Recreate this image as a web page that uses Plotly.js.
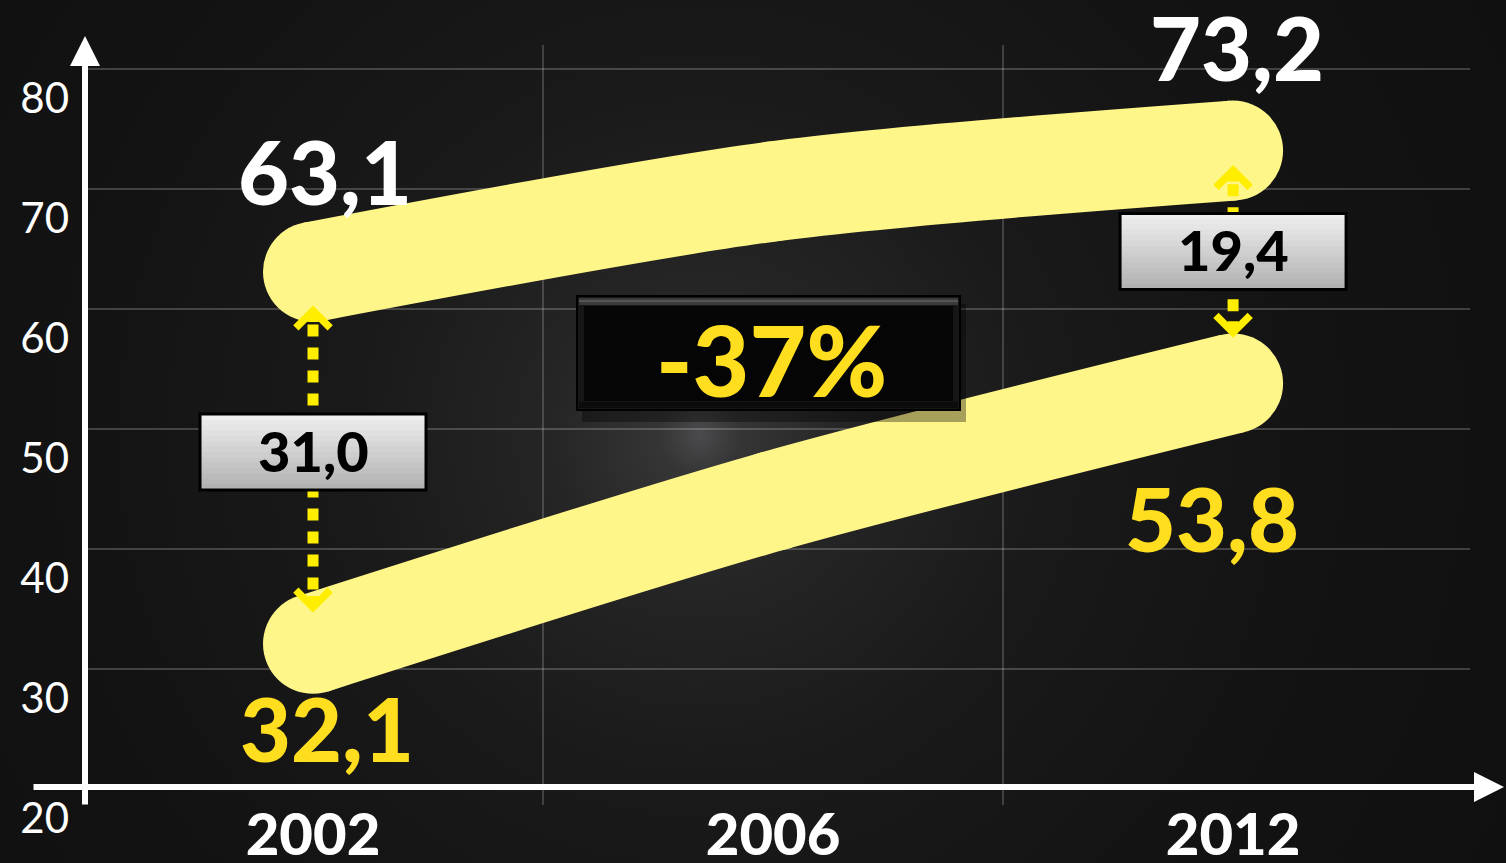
<!DOCTYPE html>
<html><head><meta charset="utf-8">
<script src="https://cdn.plot.ly/plotly-3.0.1.min.js"></script>
<style>
html,body{margin:0;padding:0;width:1506px;height:863px;overflow:hidden;
background: radial-gradient(circle at 700px 435px, #4b4a4c 0px, #363536 40px, #262526 150px, #1b1a1a 340px, #141313 620px, #0f0f0f 1000px);}
#chart{width:1506px;height:863px;}
</style></head><body><div id="chart"></div>
<script>
// ---- data ----
const categories = ['2002', '2006', '2012'];
const upperSeries = [63.1, 69.8, 73.2];
const lowerSeries = [32.1, 44.0, 53.8];
const yTickVals = [20, 30, 40, 50, 60, 70, 80];
const gapIndex = [0, 2];

// ---- layout helpers ----
const W = 1506, H = 863, M = {l: 87, r: 36, t: 45, b: 58};
const pw = W - M.l - M.r, ph = H - M.t - M.b;
const xRange = [-0.4913, 2.515], yRange = [18.667, 82];
const xd = px => (px - M.l) / pw;          // pixel -> x domain fraction
const yd = py => (H - M.b - py) / ph;      // pixel -> y domain fraction
const fmt = v => v.toFixed(1).replace('.', ',');

const LINE = '#FFF68A', TXTY = '#FFDD1F', ARROW = '#FFEE00', FONT = 'Lato, "DejaVu Sans", sans-serif';
const xIdx = categories.map((c, i) => i);

function band(vals) {
  return {x: xIdx, y: vals, mode: 'lines+markers', cliponaxis: false,
    line: {color: LINE, width: 100, shape: 'spline', smoothing: 0.8},
    marker: {color: LINE, size: 100, line: {width: 0}},
    hoverinfo: 'skip', showlegend: false};
}
const data = [band(upperSeries), band(lowerSeries)];

const shapes = [], annotations = [];

// axis lines with arrows
annotations.push({xref: 'x domain', yref: 'y domain', x: xd(85), y: yd(36), ax: 0, ay: 770, text: '',
  showarrow: true, arrowhead: 2, arrowsize: 1.0, arrowwidth: 6, arrowcolor: '#ffffff', standoff: 0});
annotations.push({xref: 'x domain', yref: 'y domain', x: xd(1504), y: yd(787), ax: -1472, ay: 0, text: '',
  showarrow: true, arrowhead: 2, arrowsize: 1.0, arrowwidth: 6, arrowcolor: '#ffffff', standoff: 0});

// value labels
const labelCfg = [
  {i: 0, v: upperSeries[0], color: '#ffffff', xs: 12, ys: 101},
  {i: 2, v: upperSeries[2], color: '#ffffff', xs: 4, ys: 104},
  {i: 0, v: lowerSeries[0], color: TXTY, xs: 14, ys: -84},
  {i: 2, v: lowerSeries[2], color: TXTY, xs: -21, ys: -135}
];
labelCfg.forEach(c => annotations.push({x: c.i, y: c.v, xref: 'x', yref: 'y', text: fmt(c.v), showarrow: false,
  xshift: c.xs, yshift: c.ys, font: {family: FONT, size: 88, weight: 900, color: c.color}}));

// gap arrows + boxes
const topPad = [2.8, 1.2], botPad = [2.6, 3.8], boxShift = [7, 0];
gapIndex.forEach((i, k) => {
  const top = upperSeries[i] - topPad[k], bot = lowerSeries[i] + botPad[k];
  const mid = (top + bot) / 2;
  shapes.push({type: 'line', xref: 'x', yref: 'y', x0: i, x1: i, y0: top - 1.6, y1: bot + 1.6,
    line: {color: ARROW, width: 11, dash: '12px,11px'}});
  annotations.push({x: i, y: top, xref: 'x', yref: 'y', ax: 0, ay: 18, text: '', showarrow: true,
    arrowhead: 4, arrowwidth: 11, arrowsize: 0.6, arrowcolor: ARROW, standoff: 0});
  annotations.push({x: i, y: bot, xref: 'x', yref: 'y', ax: 0, ay: -18, text: '', showarrow: true,
    arrowhead: 4, arrowwidth: 11, arrowsize: 0.6, arrowcolor: ARROW, standoff: 0});
  // gradient box
  const N = 14, hh = 38, hw = 113, s = boxShift[k];
  shapes.push({type: 'rect', xref: 'x', yref: 'y', xsizemode: 'pixel', ysizemode: 'pixel',
    xanchor: i, yanchor: mid, x0: -hw, x1: hw, y0: -hh + s, y1: hh + s,
    fillcolor: 'rgb(190,190,190)', line: {width: 0}});
  for (let j = 0; j < N; j++) {
    const t = j / (N - 1);
    const c = Math.round(238 - t * (238 - 178));
    shapes.push({type: 'rect', xref: 'x', yref: 'y', xsizemode: 'pixel', ysizemode: 'pixel',
      xanchor: i, yanchor: mid, x0: -hw, x1: hw,
      y0: hh - (j + 1) * (2 * hh / N) - 1 + s, y1: hh - j * (2 * hh / N) + s,
      fillcolor: `rgb(${c},${c},${c})`, line: {width: 0}});
  }
  shapes.push({type: 'rect', xref: 'x', yref: 'y', xsizemode: 'pixel', ysizemode: 'pixel',
    xanchor: i, yanchor: mid, x0: -hw, x1: hw, y0: -hh + s, y1: hh + s,
    fillcolor: 'rgba(0,0,0,0)', line: {color: '#000000', width: 3}});
  annotations.push({x: i, y: mid, xref: 'x', yref: 'y', text: fmt(upperSeries[i] - lowerSeries[i]), showarrow: false,
    yshift: 2 + s, font: {family: FONT, size: 56, weight: 900, color: '#000000'}});
});

// change callout box
const change = Math.round(((upperSeries[2] - lowerSeries[2]) / (upperSeries[0] - lowerSeries[0]) - 1) * 100);
const R = (x0, y0, x1, y1, fill, line) => shapes.push({type: 'rect', xref: 'x domain', yref: 'y domain',
  x0: xd(x0), x1: xd(x1), y0: yd(y1), y1: yd(y0), fillcolor: fill, line: line || {width: 0}});
R(582, 304, 966, 422, 'rgba(0,0,0,0.35)');
R(577, 296, 960, 410, '#161616', {color: '#000000', width: 2});
R(579, 298, 958, 305, '#3a3a3a');
R(579, 300, 958, 302, '#555555');
R(579, 402, 958, 408, '#0c0c0c');
R(584, 306, 953, 401, '#050505');
annotations.push({xref: 'x domain', yref: 'y domain', x: xd(771), y: yd(359), text: change + '%', showarrow: false,
  font: {family: FONT, size: 98, weight: 900, color: TXTY}});

const layout = {
  width: W, height: H, margin: M,
  paper_bgcolor: 'rgba(0,0,0,0)', plot_bgcolor: 'rgba(0,0,0,0)',
  showlegend: false, hovermode: false,
  xaxis: {range: xRange, tickvals: xIdx, ticktext: categories, showgrid: false, zeroline: false, showline: false,
    ticks: '', ticklabelstandoff: -9, tickfont: {family: FONT, size: 58, weight: 900, color: '#ffffff'},
    minor: {tickvals: [0.5, 1.5], showgrid: true, gridcolor: 'rgba(255,255,255,0.18)', gridwidth: 2, ticks: ''},
    fixedrange: true},
  yaxis: {range: yRange, tickvals: yTickVals, showgrid: true, gridcolor: 'rgba(255,255,255,0.2)', gridwidth: 2,
    zeroline: false, showline: false, ticks: '', ticklabelshift: 29, ticklabelstandoff: 17,
    ticklabeloverflow: 'allow', tickfont: {family: FONT, size: 42, color: '#ffffff'}, fixedrange: true},
  shapes: shapes, annotations: annotations
};
Plotly.newPlot('chart', data, layout, {staticPlot: true, displayModeBar: false});
</script></body></html>
